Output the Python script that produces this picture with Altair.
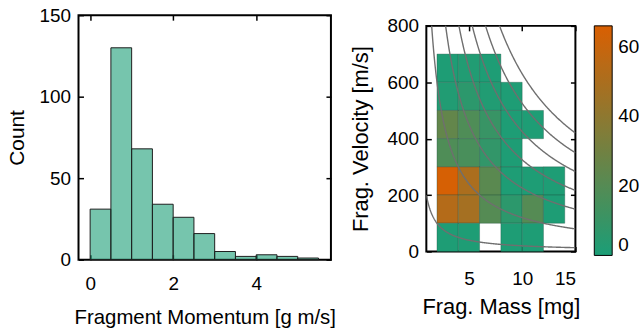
import altair as alt
import pandas as pd

# ---------------- data: histogram of fragment momentum ----------------
mom_bin_left = [0.0, 0.5, 1.0, 1.5, 2.0, 2.5, 3.0, 3.5, 4.0, 4.5, 5.0]
mom_counts = [31, 130, 68, 34, 26, 16, 5, 2, 3, 2, 1]
MOM_BIN_WIDTH = 0.5
mom_ticks = [0, 2, 4]
count_ticks = [0, 50, 100, 150]

# ---------------- data: 2-D histogram mass vs velocity ----------------
cell_mass = [2, 4, 6,
             2, 4, 6, 8,
             2, 4, 6, 8, 10,
             2, 4, 6, 8,
             2, 4, 6, 8, 10, 12,
             2, 4, 6, 8, 10, 12,
             2, 4, 8, 10]
cell_vel = [600, 600, 600,
            500, 500, 500, 500,
            400, 400, 400, 400, 400,
            300, 300, 300, 300,
            200, 200, 200, 200, 200, 200,
            100, 100, 100, 100, 100, 100,
            0, 0, 0, 0]
cell_counts = [1, 2, 1,
               2, 6, 2, 1,
               25, 18, 10, 1, 1,
               18, 16, 8, 1,
               65, 50, 22, 1, 1, 1,
               53, 48, 20, 6, 20, 1,
               1, 1, 1, 1]
MASS_BIN_WIDTH = 2
VEL_BIN_WIDTH = 100
mass_ticks = [5, 10, 15]
vel_ticks = [0, 200, 400, 600, 800]
momentum_levels = [0.2, 1.2, 2.25, 3.25, 4.25, 5.25, 6.3]
colorbar_ticks = [0, 20, 40, 60]

# ---------------- styling ----------------
FONT = "Liberation Sans"
GREEN = "#1b9e77"
ORANGE = "#d95f02"
TICK_LEN = 5


def inward_axes(chart_base, xf, yf, xs, ys, xvals, yvals, xorient, yorient):
    common = dict(labels=False, domain=False, grid=False, ticks=True,
                  tickSize=TICK_LEN, tickWidth=1.5, tickColor="black",
                  offset=-TICK_LEN, title=None, minExtent=0, maxExtent=0)
    return chart_base.mark_point(opacity=0).encode(
        x=alt.X(xf, scale=xs, axis=alt.Axis(orient=xorient, values=xvals, **common)),
        y=alt.Y(yf, scale=ys, axis=alt.Axis(orient=yorient, values=yvals, **common)),
    )


# ---------------- left panel ----------------
hist_df = pd.DataFrame({"left": mom_bin_left, "count": mom_counts})
hx = alt.Scale(domain=[-0.28, 5.8], nice=False, zero=False)
hy = alt.Scale(domain=[0, 150], nice=False)
hist_base = alt.Chart(hist_df).transform_calculate(right=f"datum.left + {MOM_BIN_WIDTH}")

bars = hist_base.mark_rect(fill=GREEN, fillOpacity=0.6, stroke="#1e1e1e", strokeWidth=1).encode(
    x=alt.X("left:Q", scale=hx,
            axis=alt.Axis(values=mom_ticks, title="Fragment Momentum [g m/s]", ticks=False,
                          domain=False, grid=False, labelPadding=15, titlePadding=14,
                          titleFontSize=20.5)),
    x2="right:Q",
    y=alt.Y("count:Q", scale=hy,
            axis=alt.Axis(values=count_ticks, title="Count", ticks=False, domain=False,
                          grid=False, labelPadding=8, titlePadding=12, titleFontSize=21)),
    y2=alt.datum(0),
)
left = alt.layer(
    bars,
    inward_axes(hist_base, "left:Q", "count:Q", hx, hy, mom_ticks, count_ticks, "bottom", "left"),
    inward_axes(hist_base, "left:Q", "count:Q", hx, hy, mom_ticks, count_ticks, "top", "right"),
).resolve_axis(x="independent", y="independent").properties(width=254, height=246)

# ---------------- right panel ----------------
heat_df = pd.DataFrame({"m": cell_mass, "v": cell_vel, "n": cell_counts})
mx = alt.Scale(domain=[1, 15], nice=False, zero=False)
vy = alt.Scale(domain=[0, 800], nice=False)
heat_base = alt.Chart(heat_df).transform_calculate(
    m2=f"datum.m + {MASS_BIN_WIDTH}", v2=f"datum.v + {VEL_BIN_WIDTH}")

rects = heat_base.mark_rect(strokeWidth=1, stroke="#1f4f40", strokeOpacity=0.35).encode(
    x=alt.X("m:Q", scale=mx,
            axis=alt.Axis(values=mass_ticks, title="Frag. Mass [mg]", ticks=False, domain=False,
                          grid=False, labelPadding=18, titlePadding=8, titleFontSize=22)),
    x2="m2:Q",
    y=alt.Y("v:Q", scale=vy,
            axis=alt.Axis(values=vel_ticks, title="Frag. Velocity [m/s]", ticks=False,
                          domain=False, grid=False, labelPadding=8, titlePadding=14,
                          titleFontSize=22)),
    y2="v2:Q",
    color=alt.Color("n:Q",
                    scale=alt.Scale(domain=[0, 66], range=[GREEN, ORANGE], interpolate="rgb"),
                    legend=alt.Legend(orient="none", legendX=519, legendY=11, title=None,
                                      direction="vertical", gradientLength=231,
                                      gradientThickness=18, gradientStrokeColor="black",
                                      gradientStrokeWidth=1, values=colorbar_ticks,
                                      labelFontSize=19, labelFont=FONT, labelColor="black",
                                      labelOffset=6, padding=0)),
)

curves = alt.Chart(pd.DataFrame({"p": momentum_levels})).transform_calculate(
    m="sequence(1, 15.01, 0.05)"
).transform_flatten(["m"]).transform_calculate(
    v="1000 * datum.p / datum.m"
).mark_line(stroke="#6f6f6f", strokeWidth=1.4, clip=True).encode(
    x=alt.X("m:Q", scale=mx, axis=None),
    y=alt.Y("v:Q", scale=vy, axis=None),
    detail="p:N",
)

right = alt.layer(
    rects,
    curves,
    inward_axes(heat_base, "m:Q", "v:Q", mx, vy, mass_ticks, vel_ticks, "bottom", "left"),
    inward_axes(heat_base, "m:Q", "v:Q", mx, vy, mass_ticks, vel_ticks, "top", "right"),
).resolve_axis(x="independent", y="independent").properties(width=150, height=227)

chart = alt.hconcat(left, right, spacing=12, center=True).properties(
    padding={"left": 5, "top": 4, "right": 0, "bottom": 0},
    background="white",
).configure_view(
    stroke="black", strokeWidth=2
).configure_axis(
    labelFont=FONT, titleFont=FONT, labelFontSize=19, titleFontSize=20,
    labelColor="black", titleColor="black", titleFontWeight="normal"
)

chart.save("out.html", embed_options={"renderer": "svg", "actions": False})
